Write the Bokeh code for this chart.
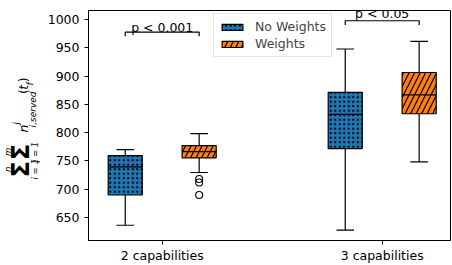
import numpy as np
from bokeh.plotting import figure
from bokeh.layouts import row
from bokeh.models import Label, Legend, LegendItem, FixedTicker, Range1d, ColumnDataSource
from bokeh.core.properties import value
from bokeh.embed import file_html
from bokeh.resources import INLINE

# ---------------- data ----------------
categories = ["2 capabilities", "3 capabilities"]
series = ["No Weights", "Weights"]

nw_lo = [636.5, 627.7]
nw_q1 = [689.9, 771.9]
nw_med = [739.7, 832.4]
nw_q3 = [759.6, 871.1]
nw_hi = [770.0, 947.8]
nw_outliers = [[], []]

w_lo = [729.7, 748.5]
w_q1 = [755.5, 833.4]
w_med = [766.6, 866.9]
w_q3 = [777.2, 906.3]
w_hi = [798.3, 961.3]
w_outliers = [[718.1, 712.1, 689.9], []]

sig_labels = ["p < 0.001", "p < 0.05"]
sig_heights = [977.7, 997.7]
y_ticks = [650, 700, 750, 800, 850, 900, 950, 1000]

# ---------------- styling ----------------
FONT = "DejaVu Sans"
FS = "12.5px"
H = 265
LW = 40            # width of the y-label strip
W = 412            # width of the main figure
BL, BR, BT, BB = 48, 2, 10, 24
PXU = 220.0        # pixels per category unit
X0 = -(161.7 - 88) / PXU
X1 = X0 + (W - BL - BR) / PXU
YS = 199.0 / 350.0  # pixels per value unit
Y1 = 1000 + 9 / YS
Y0 = Y1 - (H - BT - BB) / YS
OFF = 0.168
BW = 0.155
CW = 0.08

p = figure(width=W, height=H, output_backend="svg", toolbar_location=None,
           x_range=Range1d(X0, X1), y_range=Range1d(Y0, Y1),
           min_border_left=BL, min_border_right=BR, min_border_top=BT,
           min_border_bottom=BB)
p.background_fill_color = "white"
p.border_fill_color = "white"
p.xgrid.visible = False
p.ygrid.visible = False
p.outline_line_color = "black"
p.outline_line_width = 1
p.outline_line_alpha = 1

for ax in (p.xaxis, p.yaxis):
    ax.axis_line_color = "black"
    ax.major_tick_line_color = "black"
    ax.major_tick_in = 0
    ax.major_tick_out = 4
    ax.minor_tick_line_color = None
    ax.major_label_text_font = FONT
    ax.major_label_text_font_size = FS
    ax.major_label_text_color = "black"
p.yaxis.major_label_standoff = 5
p.xaxis.major_label_standoff = 3

p.xaxis.ticker = FixedTicker(ticks=list(range(len(categories))))
p.xaxis.major_label_overrides = {i: c for i, c in enumerate(categories)}
p.yaxis.ticker = FixedTicker(ticks=y_ticks)


def draw_box(offset, lo, q1, med, q3, hi, outl, color, hatch, hscale):
    xs = [i + offset for i in range(len(categories))]
    p.segment(x0=xs, y0=q3, x1=xs, y1=hi, line_color="black", line_width=1.2)
    p.segment(x0=xs, y0=q1, x1=xs, y1=lo, line_color="black", line_width=1.2)
    p.segment(x0=[x - CW / 2 for x in xs], y0=hi, x1=[x + CW / 2 for x in xs], y1=hi,
              line_color="black", line_width=1.2)
    p.segment(x0=[x - CW / 2 for x in xs], y0=lo, x1=[x + CW / 2 for x in xs], y1=lo,
              line_color="black", line_width=1.2)
    r = p.vbar(x=xs, top=q3, bottom=q1, width=BW, fill_color=color,
               line_color="black", line_width=1.2, hatch_pattern=hatch,
               hatch_color="black", hatch_scale=hscale, hatch_weight=1.2)
    p.segment(x0=[x - BW / 2 for x in xs], y0=med, x1=[x + BW / 2 for x in xs], y1=med,
              line_color="black", line_width=1.2)
    ox, oy = [], []
    for x, vals in zip(xs, outl):
        for v in vals:
            ox.append(x)
            oy.append(v)
    if ox:
        p.scatter(x=ox, y=oy, marker="circle", size=7, fill_color=None,
                  line_color="black", line_width=1.1)
    return r


r_nw = draw_box(-OFF, nw_lo, nw_q1, nw_med, nw_q3, nw_hi, nw_outliers,
                "#1f77b4", "dot", 4.5)
r_w = draw_box(OFF, w_lo, w_q1, w_med, w_q3, w_hi, w_outliers,
               "#ff7f0e", "right_diagonal_line", 11)

# significance brackets
TICK = 7.5
text_y = [986.5, 1010.5]
for i, (lab, h) in enumerate(zip(sig_labels, sig_heights)):
    xa, xb = i - OFF, i + OFF
    p.line(x=[xa, xa, xb, xb], y=[h - TICK, h, h, h - TICK], line_color="black",
           line_width=1.2)
    p.add_layout(Label(x=i, y=text_y[i], text=lab, text_align="center",
                       text_baseline="alphabetic", text_font=FONT,
                       text_font_size=FS, text_color="black"))

legend = Legend(items=[LegendItem(label=series[0], renderers=[r_nw]),
                       LegendItem(label=series[1], renderers=[r_w])],
                location=(125, 183), orientation="vertical")
legend.label_text_font = FONT
legend.label_text_font_size = FS
legend.glyph_width = 26
legend.glyph_height = 8
legend.label_height = 15
legend.label_standoff = 10
legend.spacing = 2
legend.padding = 5
legend.margin = 0
legend.border_line_color = "#cccccc"
legend.border_line_width = 1
legend.background_fill_alpha = 0.8
p.add_layout(legend)

# ---------------- y-axis label strip (rotated math pieces) ----------------
lf = figure(width=LW, height=H, output_backend="svg", toolbar_location=None,
            x_range=Range1d(0, LW), y_range=Range1d(0, H),
            x_axis_type=None, y_axis_type=None,
            min_border_left=0, min_border_right=0, min_border_top=0,
            min_border_bottom=0)
lf.xgrid.visible = False
lf.ygrid.visible = False
lf.outline_line_color = None
lf.background_fill_color = "white"
lf.border_fill_color = "white"

pieces = [
    ("\u03a3", 20, 183, "24px", "bold"),
    ("n", 7, 183, "8.5px", "italic"),
    ("i = 1", 34.5, 183, "8.5px", "italic"),
    ("\u03a3", 20, 163, "24px", "bold"),
    ("m", 7, 163, "8.5px", "italic"),
    ("j = 1", 34.5, 163, "8.5px", "italic"),
    ("n", 23, 136, FS, "italic"),
    ("j", 15, 130, "9px", "italic"),
    ("i,served", 32, 114, "9px", "italic"),
    ("(", 23, 93.5, FS, "normal"),
    ("t", 23, 88.5, FS, "italic"),
    ("f", 29, 84.5, "9px", "italic"),
    (")", 23, 80, FS, "normal"),
]
src = ColumnDataSource(dict(
    x=[ix for _, ix, _, _, _ in pieces],
    y=[H - iy for _, _, iy, _, _ in pieces],
    t=[t for t, _, _, _, _ in pieces],
    fs=[f for _, _, _, f, _ in pieces],
    st=[s for _, _, _, _, s in pieces],
))
lf.text(x="x", y="y", text="t", source=src, angle=np.pi / 2, text_align="center",
        text_baseline="middle", text_font=value(FONT), text_font_size="fs",
        text_font_style="st", text_color="black")

layout = row(lf, p, spacing=0)
open("out.html", "w").write(file_html(layout, INLINE))
